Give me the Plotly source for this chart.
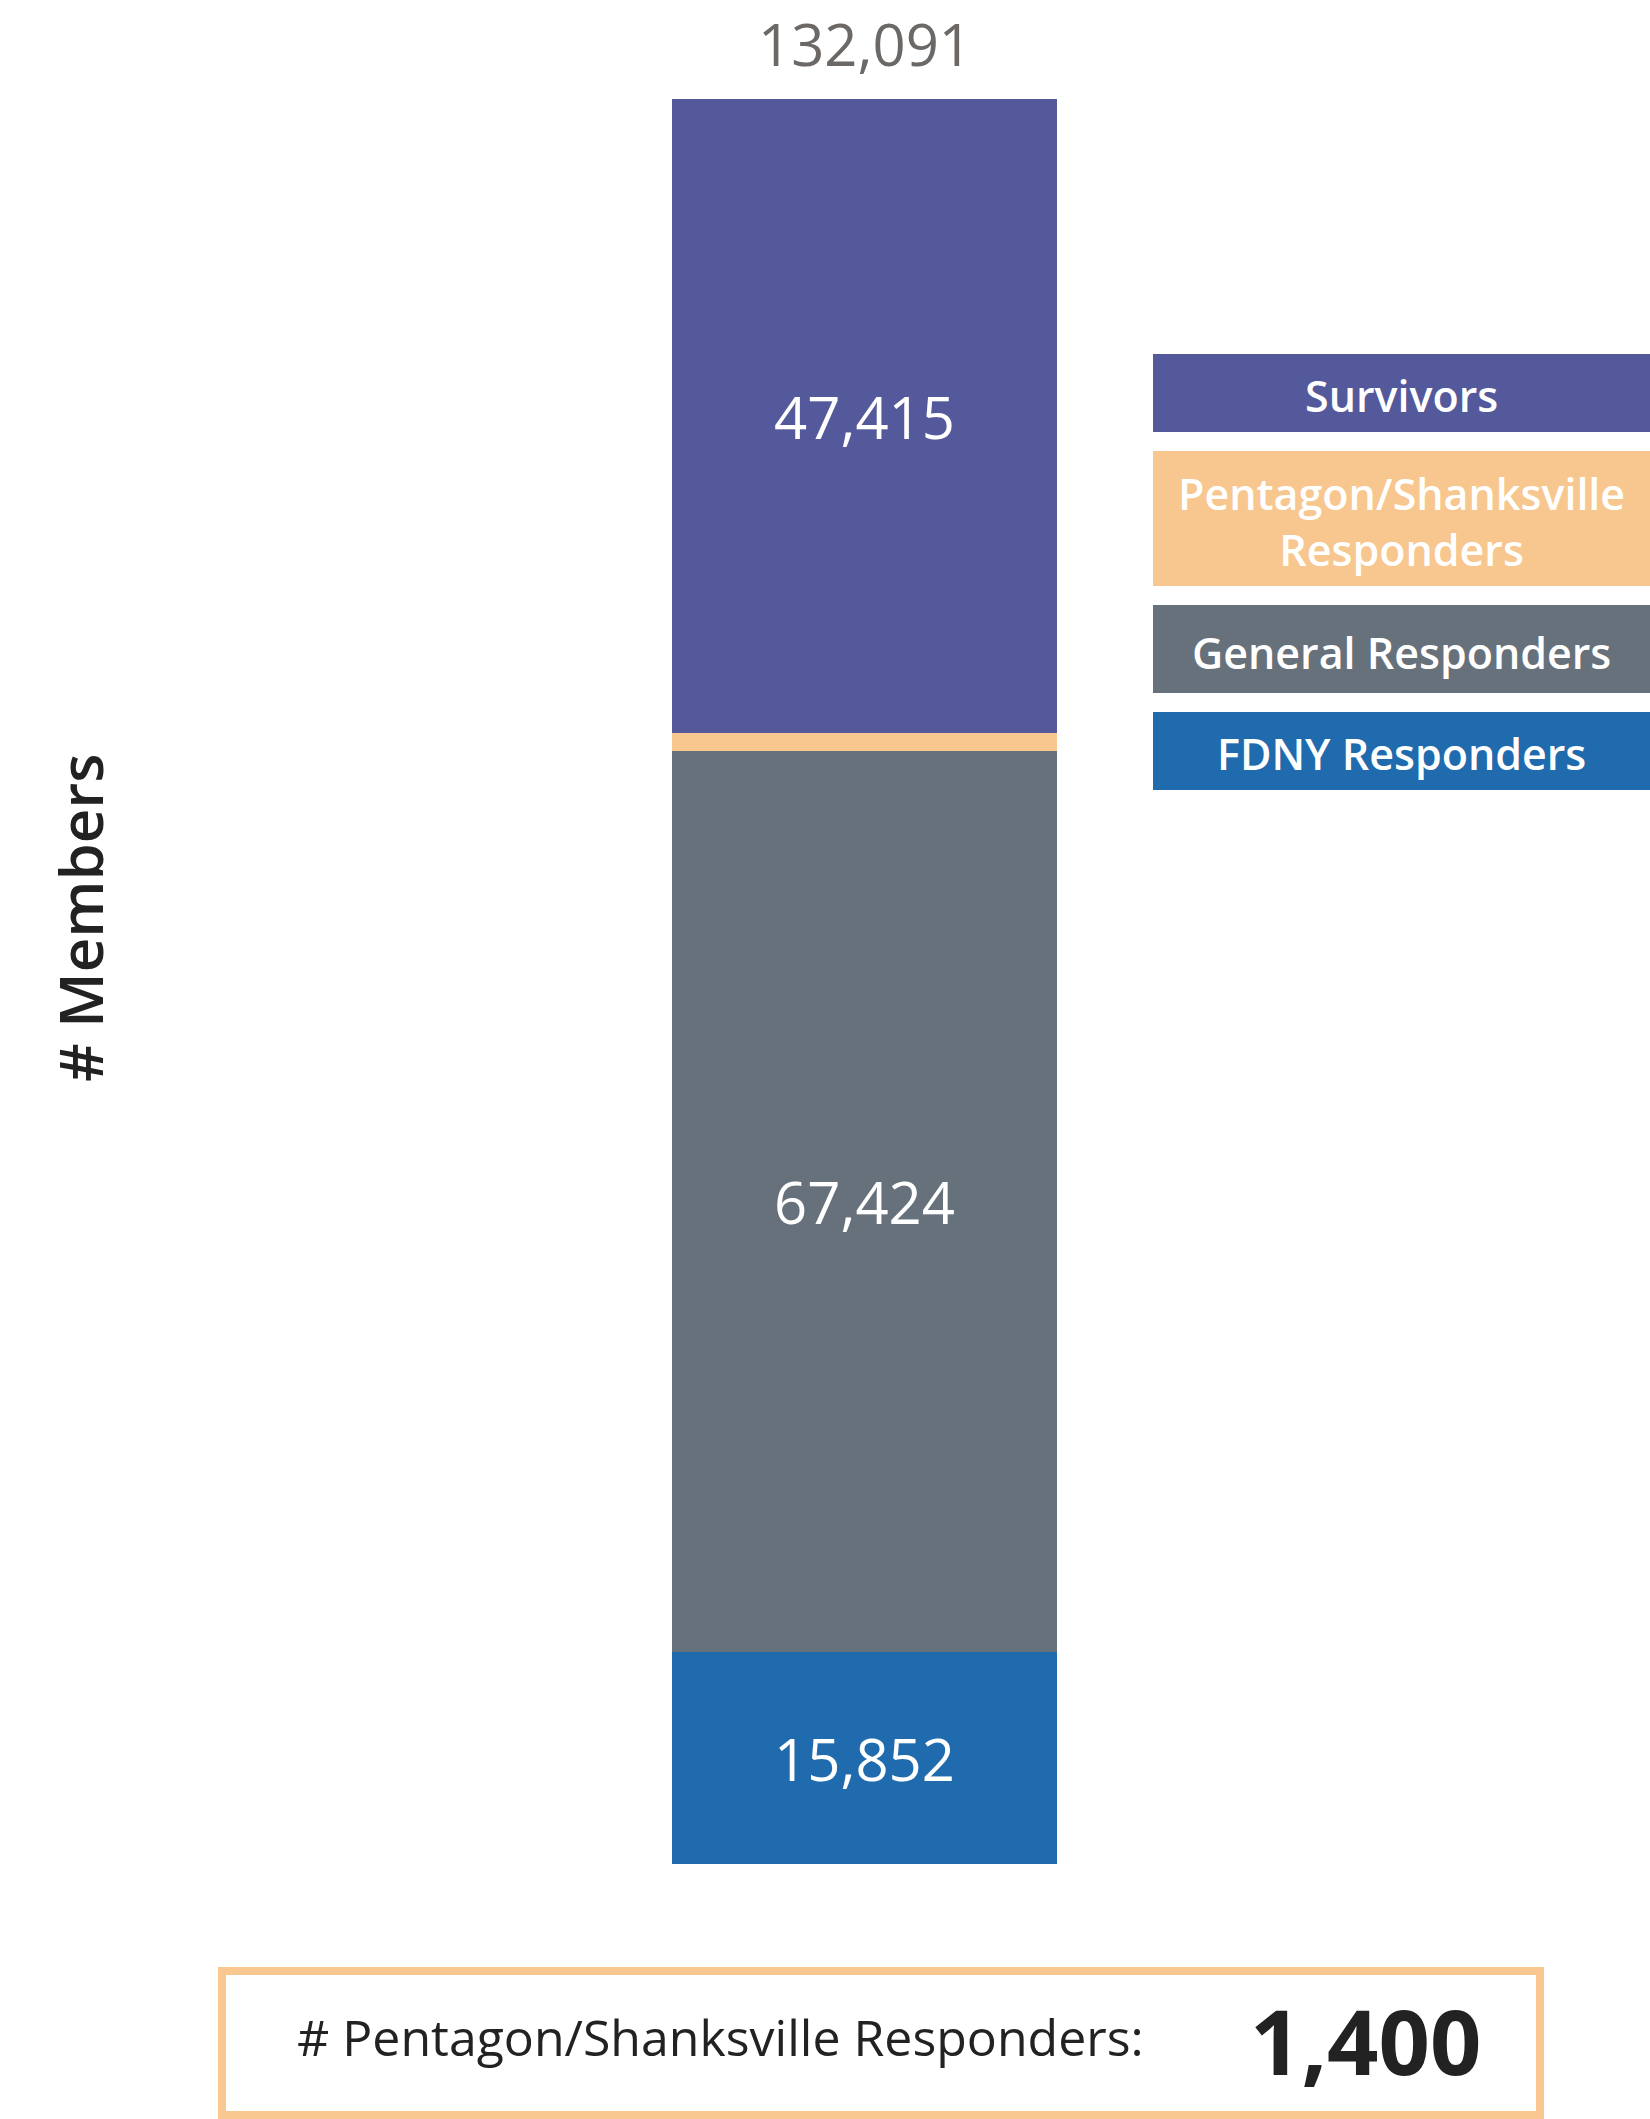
import plotly.graph_objects as go

# data, bottom of the stack first
categories = ["FDNY Responders", "General Responders", "Pentagon/Shanksville Responders", "Survivors"]
members = [15852, 67424, 1400, 47415]
legend_labels = ["FDNY Responders", "General Responders", "Pentagon/Shanksville<br>Responders", "Survivors"]
colors = ["#1F6BAD", "#66717C", "#F7C78F", "#53599A"]
show_label = [True, True, False, True]
bar_name = "Members"

W, H = 1650, 2119
total = sum(members)
FONT = "Open Sans"


def px_x(x):
    return x / W


def px_y(y):
    return 1 - y / H


fig = go.Figure()
for cat, val, col, lab in zip(categories, members, colors, show_label):
    fig.add_trace(go.Bar(
            x=[bar_name], y=[val], name=cat,
            marker=dict(color=col, line=dict(width=0)),
            text=[f"{val:,}" if lab else ""],
            textposition="inside", insidetextanchor="middle", textangle=0,
            insidetextfont=dict(family=FONT, size=58, color="white"),
            hoverinfo="name+y",
            ))

annotations = []
# total on top of the bar
annotations.append(dict(
        x=bar_name, y=total, xref="x", yref="y", xanchor="center", yanchor="bottom", yshift=14,
        text=f"{total:,}", showarrow=False,
        font=dict(family=FONT, size=58, color="#6B6866"),
        ))

# axis title
annotations.append(dict(
        x=px_x(80), y=px_y(918), xref="paper", yref="paper",
        xanchor="center", yanchor="middle",
        text="# Members", textangle=-90, showarrow=False,
        font=dict(family=FONT, size=60, color="#222222", weight=600),
        ))

# custom legend boxes, top to bottom
shapes = []
legend_boxes = [(354, 432), (451, 586), (605, 693), (712, 790)]
for (y0, y1), lab, col in zip(legend_boxes, legend_labels[::-1], colors[::-1]):
    shapes.append(dict(type="rect", xref="paper", yref="paper",
                       x0=px_x(1153), x1=px_x(1650), y0=px_y(y1), y1=px_y(y0),
                       fillcolor=col, line=dict(width=0), layer="below"))
    annotations.append(dict(
            x=px_x(1401), y=px_y((y0 + y1) / 2 + 3), xref="paper", yref="paper",
            xanchor="center", yanchor="middle",
            text=lab, showarrow=False, align="center",
            font=dict(family=FONT, size=43, color="white", weight=600),
            ))

# bottom callout box
pentagon = members[categories.index("Pentagon/Shanksville Responders")]
shapes.append(dict(type="rect", xref="paper", yref="paper",
                   x0=px_x(222), x1=px_x(1540), y0=px_y(2115), y1=px_y(1971),
                   fillcolor="white", line=dict(color="#F8C890", width=8)))
annotations.append(dict(
        x=px_x(295), y=px_y(2037), xref="paper", yref="paper",
        xanchor="left", yanchor="middle",
        text="# Pentagon/Shanksville Responders:", showarrow=False,
        font=dict(family=FONT, size=50, color="#222222"),
        ))
annotations.append(dict(
        x=px_x(1366), y=px_y(2040), xref="paper", yref="paper",
        xanchor="center", yanchor="middle",
        text=f"{pentagon:,}", showarrow=False,
        font=dict(family=FONT, size=90, color="#222222", weight=700),
        ))

fig.update_layout(
        width=W, height=H,
        margin=dict(l=0, r=0, t=0, b=0),
        barmode="stack", bargap=0,
        showlegend=False,
        plot_bgcolor="white", paper_bgcolor="white",
        xaxis=dict(domain=[px_x(672), px_x(1057)], visible=False, fixedrange=True),
        yaxis=dict(domain=[px_y(1864), px_y(99)], range=[0, total], visible=False,
                   fixedrange=True),
        shapes=shapes,
        annotations=annotations,
        uniformtext=dict(mode="show", minsize=10),
        )

fig.write_html("out.html", config={"displayModeBar": False},
               post_script="document.body.style.margin = '0';")
